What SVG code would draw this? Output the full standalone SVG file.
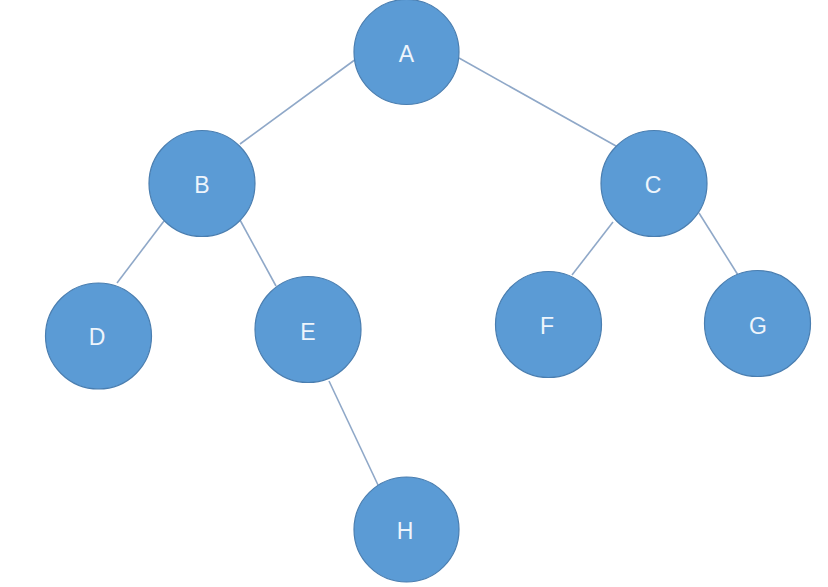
<svg xmlns="http://www.w3.org/2000/svg" width="828" height="587" viewBox="0 0 828 587">
<style>
.n circle{fill:#5B9BD5;stroke:#4A7EB0;stroke-width:1.2}
.n text{fill:#EEF5FC;font-family:"Liberation Sans",Arial,sans-serif;font-size:23px;text-anchor:middle}
.e line{stroke:#8FA8C8;stroke-width:1.6;fill:none}
</style>
<rect width="828" height="587" fill="#fff"/>
<g id="edges" class="e">
<line x1="356" y1="59" x2="240" y2="144"/>
<line x1="459" y1="58" x2="616" y2="146"/>
<line x1="164" y1="221" x2="117" y2="283"/>
<line x1="240" y1="220" x2="276" y2="286"/>
<line x1="613" y1="222" x2="572" y2="275"/>
<line x1="699" y1="213" x2="738" y2="275"/>
<line x1="329" y1="381" x2="378" y2="485"/>
</g>
<g id="A" class="n"><circle cx="406.5" cy="52" r="52.5"/><text x="406.5" y="62">A</text></g>
<g id="B" class="n"><circle cx="202" cy="183.5" r="53"/><text x="202" y="193">B</text></g>
<g id="C" class="n"><circle cx="654" cy="183.5" r="53"/><text x="653" y="193">C</text></g>
<g id="D" class="n"><circle cx="98.5" cy="336" r="53"/><text x="97" y="345">D</text></g>
<g id="E" class="n"><circle cx="308" cy="329.5" r="53"/><text x="308" y="340">E</text></g>
<g id="F" class="n"><circle cx="548.5" cy="324.5" r="53"/><text x="547" y="334">F</text></g>
<g id="G" class="n"><circle cx="757.5" cy="323.5" r="53"/><text x="758" y="334">G</text></g>
<g id="H" class="n"><circle cx="406.5" cy="529.5" r="52.5"/><text x="405" y="539">H</text></g>
</svg>
